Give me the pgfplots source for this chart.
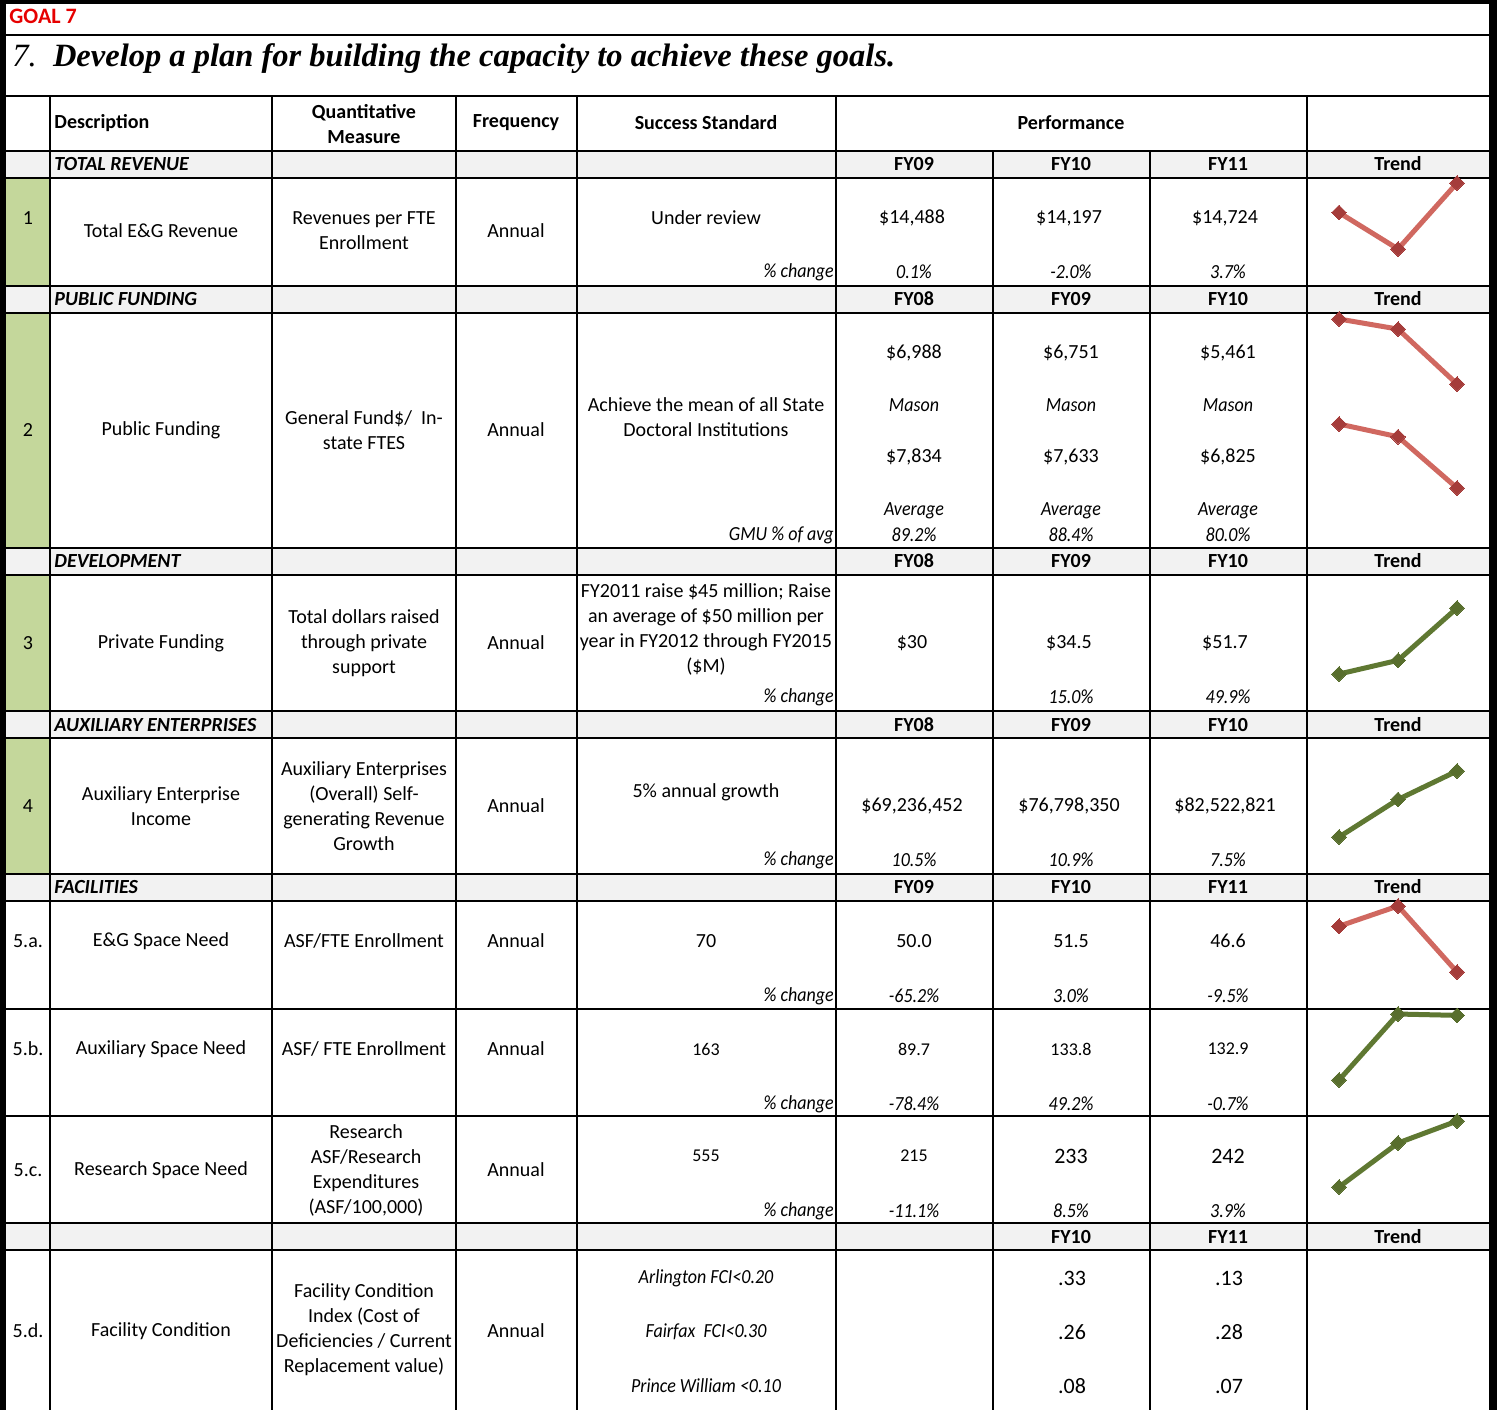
\documentclass[border=0pt]{standalone}
\usepackage{pgfplots}
\pgfplotsset{compat=1.18}
\usepackage{fontspec}
\setmainfont{Carlito}
\newfontfamily\titlefont{Liberation Serif}
\newfontfamily\condfont[FakeStretch=0.9]{Carlito}
\definecolor{secgray}{RGB}{242,242,242}
\definecolor{greencell}{RGB}{196,215,155}
\definecolor{goalred}{RGB}{230,0,0}
\definecolor{rline}{RGB}{208,104,96}
\definecolor{rmark}{RGB}{165,60,58}
\definecolor{gline}{RGB}{95,120,50}
\definecolor{gmark}{RGB}{88,110,45}
\newcommand{\nf}{\fontsize{10}{12.5}\selectfont}
\newcommand{\sm}{\fontsize{9}{11}\selectfont}
\newcommand{\bg}{\fontsize{11}{13}\selectfont}
\newcommand{\ci}{\condfont\itshape\fontsize{10}{12}\selectfont}
\pgfplotsset{
  spark/.style={anchor=south west, scale only axis, width=59pt, xmin=0, xmax=2,
    axis lines=none, ticks=none, clip=false, enlargelimits=false},
  rsp/.style={color=rline, line width=2.5pt, mark=square*, mark size=2.6pt,
    mark options={rotate=45, fill=rmark, draw=rmark, line width=0pt}},
  gsp/.style={color=gline, line width=2.5pt, mark=square*, mark size=2.6pt,
    mark options={rotate=45, fill=gmark, draw=gmark, line width=0pt}},
}
\newcommand{\secrow}[5]{%
  \node[anchor=west, font=\nf\bfseries\itshape] at (54,#1) {#2};
  \node[font=\nf\bfseries] at (914,#1) {#3};
  \node[font=\nf\bfseries] at (1071,#1) {#4};
  \node[font=\nf\bfseries] at (1228,#1) {#5};
  \node[font=\nf\bfseries] at (1398,#1) {Trend};}
\begin{document}
\begin{tikzpicture}[x=0.5pt,y=-0.5pt, every node/.style={inner sep=0pt, font=\nf}]
\useasboundingbox (0,0) rectangle (1497,1410);
% fills
\foreach \a/\b in {151/178,286/313,548/575,711/738,874/901,1223/1250}
  \fill[secgray] (5,\a) rectangle (1490,\b);
\foreach \a/\b in {178/286,313/548,575/711,738/874}
  \fill[greencell] (5,\a) rectangle (50,\b);
% grid
\foreach \yy in {35,96,151,178,286,313,548,575,711,738,874,901,1009,1116,1223,1250}
  \draw[line width=1.1pt] (5,\yy) -- (1490,\yy);
\foreach \xx in {50,272,456,577,836,1307}
  \draw[line width=1.1pt] (\xx,96) -- (\xx,1410);
\foreach \xx in {993,1150}
  \draw[line width=1.1pt] (\xx,151) -- (\xx,1410);
% borders
\fill[black] (0,0) rectangle (1497,4);
\fill[black] (0,0) rectangle (6,1410);
\fill[black] (1489,0) rectangle (1497,1410);
% title
\node[anchor=west, text=goalred, font=\fontsize{11}{13}\selectfont\bfseries] at (9,16) {GOAL 7};
\node[anchor=base west, font=\titlefont\itshape\fontsize{16.25}{19}\selectfont] at (12,66) {7.\ \ \textbf{Develop a plan for building the capacity to achieve these goals.}};
% header
\node[anchor=west, font=\nf\bfseries] at (54,123) {Description};
\node[align=center, font=\nf\bfseries] at (364,124) {Quantitative\\Measure};
\node[font=\nf\bfseries] at (516,123) {Frequency};
\node[font=\nf\bfseries] at (706,123) {Success Standard};
\node[font=\nf\bfseries] at (1071,123) {Performance};
% section rows
\secrow{164}{TOTAL REVENUE}{FY09}{FY10}{FY11}
\secrow{299}{PUBLIC FUNDING}{FY08}{FY09}{FY10}
\secrow{561}{DEVELOPMENT}{FY08}{FY09}{FY10}
\secrow{725}{AUXILIARY ENTERPRISES}{FY08}{FY09}{FY10}
\secrow{887}{FACILITIES}{FY09}{FY10}{FY11}
\node[font=\nf\bfseries] at (1071,1237) {FY10};
\node[font=\nf\bfseries] at (1228,1237) {FY11};
\node[font=\nf\bfseries] at (1398,1237) {Trend};
% row 1
\node at (28,218) {1};
\node at (161,231) {Total E\&G Revenue};
\node[align=center] at (364,231) {Revenues per FTE\\Enrollment};
\node at (516,231) {Annual};
\node at (706,218) {Under review};
\node[anchor=east, font=\ci] at (834,272) {\% change};
\node at (912,218) {\$14,488};
\node at (1069,218) {\$14,197};
\node at (1225,218) {\$14,724};
\node[font=\ci] at (914,272) {0.1\%};
\node[font=\ci] at (1071,272) {-2.0\%};
\node[font=\ci] at (1228,272) {3.7\%};
% row 2
\node at (28,430) {2};
\node at (161,430) {Public Funding};
\node[align=center] at (364,430) {General Fund\$/\ \ In-\\state FTES};
\node at (516,430) {Annual};
\node[align=center] at (706,417) {Achieve the mean of all State\\Doctoral Institutions};
\node[anchor=east, font=\ci] at (834,535) {GMU \% of avg};
\node at (914,353) {\$6,988};
\node at (1071,353) {\$6,751};
\node at (1228,353) {\$5,461};
\node[font=\ci] at (914,405) {Mason};
\node[font=\ci] at (1071,405) {Mason};
\node[font=\ci] at (1228,405) {Mason};
\node at (914,457) {\$7,834};
\node at (1071,457) {\$7,633};
\node at (1228,457) {\$6,825};
\node[font=\ci] at (914,511) {Average};
\node[font=\ci] at (1071,511) {Average};
\node[font=\ci] at (1228,511) {Average};
\node[font=\ci] at (914,535) {89.2\%};
\node[font=\ci] at (1071,535) {88.4\%};
\node[font=\ci] at (1228,535) {80.0\%};
% row 3
\node at (28,643) {3};
\node at (161,643) {Private Funding};
\node[align=center] at (364,643) {Total dollars raised\\through private\\support};
\node at (516,643) {Annual};
\node[align=center] at (706,629) {FY2011 raise \$45 million; Raise\\an average of \$50 million per\\year in FY2012 through FY2015\\(\$M)};
\node[anchor=east, font=\ci] at (834,697) {\% change};
\node at (912,643) {\$30};
\node at (1069,643) {\$34.5};
\node at (1225,643) {\$51.7};
\node[font=\ci] at (1071,697) {15.0\%};
\node[font=\ci] at (1228,697) {49.9\%};
% row 4
\node at (28,806) {4};
\node[align=center] at (161,806) {Auxiliary Enterprise\\Income};
\node[align=center] at (364,806) {Auxiliary Enterprises\\(Overall) Self-\\generating Revenue\\Growth};
\node at (516,806) {Annual};
\node at (706,792) {5\% annual growth};
\node[anchor=east, font=\ci] at (834,860) {\% change};
\node at (912,806) {\$69,236,452};
\node at (1069,806) {\$76,798,350};
\node at (1225,806) {\$82,522,821};
\node[font=\ci] at (914,860) {10.5\%};
\node[font=\ci] at (1071,860) {10.9\%};
\node[font=\ci] at (1228,860) {7.5\%};
% 5a
\node at (28,941) {5.a.};
\node at (161,941) {E\&G Space Need};
\node at (364,941) {ASF/FTE Enrollment};
\node at (516,941) {Annual};
\node at (706,941) {70};
\node[anchor=east, font=\ci] at (834,996) {\% change};
\node at (914,941) {50.0};
\node at (1071,941) {51.5};
\node at (1228,941) {46.6};
\node[font=\ci] at (914,996) {-65.2\%};
\node[font=\ci] at (1071,996) {3.0\%};
\node[font=\ci] at (1228,996) {-9.5\%};
% 5b
\node at (28,1049) {5.b.};
\node at (161,1049) {Auxiliary Space Need};
\node at (364,1049) {ASF/ FTE Enrollment};
\node at (516,1049) {Annual};
\node[font=\sm] at (706,1049) {163};
\node[anchor=east, font=\ci] at (834,1104) {\% change};
\node[font=\sm] at (914,1049) {89.7};
\node[font=\sm] at (1071,1049) {133.8};
\node[font=\sm] at (1228,1049) {132.9};
\node[font=\ci] at (914,1104) {-78.4\%};
\node[font=\ci] at (1071,1104) {49.2\%};
\node[font=\ci] at (1228,1104) {-0.7\%};
% 5c
\node at (28,1170) {5.c.};
\node at (161,1170) {Research Space Need};
\node[align=center] at (366,1170) {Research\\ASF/Research\\Expenditures\\(ASF/100,000)};
\node at (516,1170) {Annual};
\node[font=\sm] at (706,1156) {555};
\node[anchor=east, font=\ci] at (834,1211) {\% change};
\node[font=\sm] at (914,1156) {215};
\node[font=\bg] at (1071,1156) {233};
\node[font=\bg] at (1228,1156) {242};
\node[font=\ci] at (914,1211) {-11.1\%};
\node[font=\ci] at (1071,1211) {8.5\%};
\node[font=\ci] at (1228,1211) {3.9\%};
% 5d
\node at (28,1331) {5.d.};
\node at (161,1331) {Facility Condition};
\node[align=center] at (364,1330) {Facility Condition\\Index (Cost of\\Deficiencies / Current\\Replacement value)};
\node at (516,1331) {Annual};
\node[font=\ci] at (706,1278) {Arlington FCI<0.20};
\node[font=\ci] at (706,1332) {Fairfax\ \ FCI<0.30};
\node[font=\ci] at (706,1386) {Prince William <0.10};
\node[font=\bg] at (1072,1278) {.33};
\node[font=\bg] at (1072,1332) {.26};
\node[font=\bg] at (1072,1386) {.08};
\node[font=\bg] at (1229,1278) {.13};
\node[font=\bg] at (1229,1332) {.28};
\node[font=\bg] at (1229,1386) {.07};
% sparklines
\begin{axis}[spark, at={(669.5pt,-124.5pt)}, height=33pt, ymin=14197, ymax=14724]
\addplot[rsp] coordinates {(0,14488) (1,14197) (2,14724)};
\end{axis}
\begin{axis}[spark, at={(669.5pt,-192pt)}, height=32.5pt, ymin=5461, ymax=6988]
\addplot[rsp] coordinates {(0,6988) (1,6751) (2,5461)};
\end{axis}
\begin{axis}[spark, at={(669.5pt,-244pt)}, height=32pt, ymin=6825, ymax=7834]
\addplot[rsp] coordinates {(0,7834) (1,7633) (2,6825)};
\end{axis}
\begin{axis}[spark, at={(669.5pt,-337pt)}, height=33pt, ymin=30, ymax=51.7]
\addplot[gsp] coordinates {(0,30) (1,34.5) (2,51.7)};
\end{axis}
\begin{axis}[spark, at={(669.5pt,-418.5pt)}, height=33pt, ymin=69236452, ymax=82522821]
\addplot[gsp] coordinates {(0,69236452) (1,76798350) (2,82522821)};
\end{axis}
\begin{axis}[spark, at={(669.5pt,-486pt)}, height=33pt, ymin=46.6, ymax=51.5]
\addplot[rsp] coordinates {(0,50.0) (1,51.5) (2,46.6)};
\end{axis}
\begin{axis}[spark, at={(669.5pt,-540pt)}, height=33pt, ymin=89.7, ymax=133.8]
\addplot[gsp] coordinates {(0,89.7) (1,133.8) (2,132.9)};
\end{axis}
\begin{axis}[spark, at={(669.5pt,-593.5pt)}, height=33pt, ymin=215, ymax=242]
\addplot[gsp] coordinates {(0,215) (1,233) (2,242)};
\end{axis}
\end{tikzpicture}
\end{document}
